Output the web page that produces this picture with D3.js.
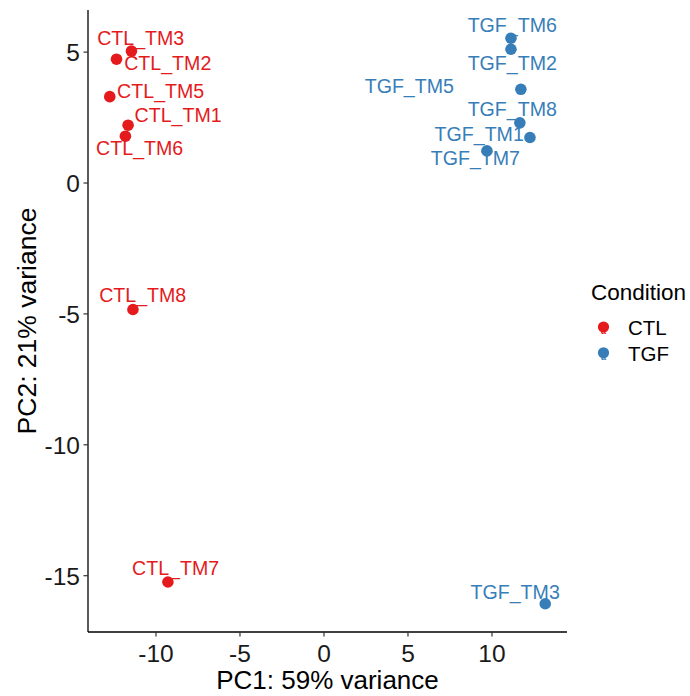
<!DOCTYPE html>
<html>
<head>
<meta charset="utf-8">
<script src="https://cdn.jsdelivr.net/npm/d3@7"></script>
<style>
  html, body { margin: 0; padding: 0; background: #ffffff; }
  svg { display: block; font-family: "Liberation Sans", Arial, Helvetica, sans-serif; }
</style>
</head>
<body>
<svg id="chart" width="690" height="696"></svg>
<script>
// ---- data ----
const samples   = ["CTL_TM3","CTL_TM2","CTL_TM5","CTL_TM1","CTL_TM6","CTL_TM8","CTL_TM7",
                   "TGF_TM6","TGF_TM2","TGF_TM5","TGF_TM8","TGF_TM1","TGF_TM7","TGF_TM3"];
const condition = ["CTL","CTL","CTL","CTL","CTL","CTL","CTL",
                   "TGF","TGF","TGF","TGF","TGF","TGF","TGF"];
const pc1 = [-11.43,-12.32,-12.72,-11.63,-11.79,-11.34,-9.26,
              11.16, 11.16, 11.75, 11.69, 12.29, 9.73, 13.20];
const pc2 = [5.02, 4.71, 3.28, 2.19, 1.77, -4.85, -15.26,
             5.51, 5.09, 3.56, 2.28, 1.72, 1.21, -16.09];
// repelled label anchor positions (data units)
const labelPC1 = [-10.88,-9.27,-9.69,-8.65,-10.94,-10.76,-8.80,
                   11.24, 11.24, 5.11, 11.24, 9.27, 9.04, 11.41];
const labelPC2 = [5.54, 4.56, 3.49, 2.60, 1.33, -4.29, -14.73,
                  6.02, 4.58, 3.68, 2.81, 1.85, 0.92, -15.64];
const conditions = ["CTL","TGF"];
const colors = ["#E41A1C","#377EB8"];
const xTicks = [-10,-5,0,5,10];
const yTicks = [-15,-10,-5,0,5];
const xTitle = "PC1: 59% variance";
const yTitle = "PC2: 21% variance";
const legendTitle = "Condition";

// ---- layout ----
const svg = d3.select("#chart");
const panel = {left: 88, right: 567, top: 10, bottom: 632};
const font = "\"Liberation Sans\", Arial, Helvetica, sans-serif";

function expand(arr) {
  const [a, b] = d3.extent(arr);
  const pad = (b - a) * 0.05;
  return [a - pad, b + pad];
}
const x = d3.scaleLinear().domain(expand(pc1)).range([panel.left, panel.right]);
const y = d3.scaleLinear().domain(expand(pc2)).range([panel.bottom, panel.top]);
const color = d3.scaleOrdinal().domain(conditions).range(colors);

const data = samples.map((s, i) => ({
  name: s, cond: condition[i], x: pc1[i], y: pc2[i], lx: labelPC1[i], ly: labelPC2[i]
}));

// axes
const fmt = d => String(d);
const xAxis = d3.axisBottom(x).tickValues(xTicks).tickSize(4.5).tickPadding(8).tickFormat(fmt);
const yAxis = d3.axisLeft(y).tickValues(yTicks).tickSize(4.5).tickPadding(3.5).tickFormat(fmt);

const gx = svg.append("g").attr("transform", `translate(0,${panel.bottom})`).call(xAxis);
const gy = svg.append("g").attr("transform", `translate(${panel.left},0)`).call(yAxis);

[gx, gy].forEach(g => {
  g.select(".domain").attr("stroke", "#000").attr("stroke-width", 1.3);
  g.selectAll(".tick line").attr("stroke", "#333").attr("stroke-width", 1.2);
  g.selectAll(".tick text").attr("fill", "#1a1a1a").style("font-family", font).style("font-size", "24.5px");
});
gx.select(".domain").attr("d", `M${panel.left},0H${panel.right}`);
gy.select(".domain").attr("d", `M0,${panel.top}V${panel.bottom}`);
gx.selectAll(".tick text").attr("dy", "0.71em");
gy.selectAll(".tick text").attr("dy", "0.36em");

// axis titles
svg.append("text")
  .attr("x", (panel.left + panel.right) / 2).attr("y", 680)
  .attr("dy", "0.36em").attr("text-anchor", "middle")
  .style("font-family", font).style("font-size", "26px").attr("fill", "#000")
  .text(xTitle);
svg.append("text")
  .attr("transform", `translate(26.5,${(panel.top + panel.bottom) / 2}) rotate(-90)`)
  .attr("dy", "0.36em").attr("text-anchor", "middle")
  .style("font-family", font).style("font-size", "26.5px").attr("fill", "#000")
  .text(yTitle);

// points
svg.append("g").selectAll("circle").data(data).join("circle")
  .attr("cx", d => x(d.x)).attr("cy", d => y(d.y)).attr("r", 5.8)
  .attr("fill", d => color(d.cond));

// labels
svg.append("g").selectAll("text").data(data).join("text")
  .attr("x", d => x(d.lx)).attr("y", d => y(d.ly))
  .attr("dy", "0.36em").attr("text-anchor", "middle")
  .style("font-family", font).style("font-size", "19.6px")
  .attr("fill", d => color(d.cond))
  .text(d => d.name);

// legend
const leg = svg.append("g");
leg.append("text").attr("x", 591).attr("y", 291.5).attr("dy", "0.36em")
  .style("font-family", font).style("font-size", "22.5px").attr("fill", "#000")
  .text(legendTitle);
const item = leg.selectAll("g.item").data(conditions).join("g")
  .attr("class", "item")
  .attr("transform", (d, i) => `translate(0,${328 + i * 25.8})`);
item.append("text").attr("x", 603.5).attr("y", 2.5).attr("dy", "0.36em")
  .attr("text-anchor", "middle")
  .style("font-family", font).style("font-size", "9px").style("font-weight", "bold")
  .attr("fill", d => color(d)).text("a");
item.append("circle").attr("cx", 603.5).attr("cy", -1).attr("r", 5.6)
  .attr("fill", d => color(d));
item.append("text").attr("x", 628).attr("y", 0).attr("dy", "0.36em")
  .style("font-family", font).style("font-size", "20.5px").attr("fill", "#000")
  .text(d => d);
</script>
</body>
</html>
